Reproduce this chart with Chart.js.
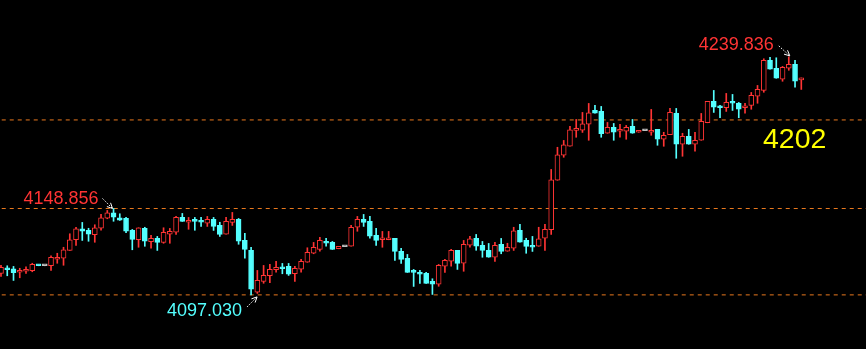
<!DOCTYPE html>
<html>
<head>
<meta charset="utf-8">
<script src="https://cdn.jsdelivr.net/npm/chart.js@4.4.0/dist/chart.umd.min.js"></script>
<style>
  html, body { margin: 0; padding: 0; background: #000; }
  #wrap { width: 866px; height: 349px; }
</style>
</head>
<body>
<div id="wrap"><canvas id="kChart"></canvas></div>
<script>
// candle data, oldest first
const opens = [
  4109.9, 4113.3, 4112.7, 4110.6, 4111.2, 4111.5, 4115.1, 4114.5, 4114.5, 4118.4,
  4119.0, 4123.7, 4130.1, 4136.7, 4135.7, 4133.1, 4137.0, 4143.0, 4146.3, 4143.3,
  4142.9, 4135.7, 4130.1, 4136.9, 4128.9, 4130.9, 4128.5, 4133.4, 4134.6, 4143.5,
  4140.6, 4141.7, 4141.7, 4140.0, 4142.3, 4138.7, 4133.4, 4140.5, 4142.3, 4129.7,
  4123.7, 4098.6, 4105.1, 4108.5, 4112.1, 4113.5, 4114.1, 4109.7, 4112.4, 4116.6,
  4122.0, 4124.3, 4129.1, 4128.5, 4124.7, 4125.9, 4126.2, 4137.6, 4142.3, 4141.1,
  4132.7, 4130.1, 4130.1, 4130.9, 4123.1, 4118.9, 4111.2, 4110.6, 4110.0, 4105.2,
  4103.4, 4114.2, 4117.2, 4123.7, 4116.0, 4126.8, 4130.9, 4126.7, 4123.7, 4119.6,
  4127.3, 4123.2, 4125.0, 4135.7, 4129.7, 4126.7, 4126.2, 4131.0, 4136.1, 4165.8,
  4180.8, 4186.2, 4195.7, 4195.8, 4199.4, 4207.7, 4207.1, 4194.0, 4197.5, 4195.2,
  4195.2, 4198.1, 4194.6, 4195.5, 4194.6, 4196.3, 4190.4, 4193.1, 4205.9, 4187.4,
  4192.1, 4187.4, 4189.8, 4200.3, 4213.1, 4210.1, 4209.3, 4212.9, 4211.9, 4209.3,
  4210.7, 4216.2, 4219.7, 4237.7, 4232.9, 4226.4, 4233.0, 4235.3, 4226.0
];
const highs = [
  4114.7, 4114.5, 4114.1, 4113.0, 4113.9, 4116.0, 4115.1, 4114.5, 4120.5, 4122.0,
  4125.6, 4133.7, 4137.6, 4140.5, 4137.0, 4139.1, 4145.3, 4147.7, 4148.856, 4145.7,
  4143.6, 4136.3, 4137.3, 4137.6, 4132.7, 4132.1, 4137.3, 4136.9, 4144.1, 4145.9,
  4143.5, 4143.5, 4143.5, 4144.1, 4143.5, 4140.6, 4143.5, 4146.5, 4142.9, 4133.9,
  4125.6, 4111.7, 4114.7, 4115.3, 4117.1, 4115.9, 4115.9, 4114.1, 4118.4, 4125.3,
  4128.5, 4131.6, 4130.9, 4129.1, 4126.1, 4125.9, 4138.7, 4144.1, 4145.3, 4144.1,
  4136.9, 4135.1, 4135.1, 4130.9, 4124.9, 4121.3, 4112.3, 4111.7, 4110.6, 4106.7,
  4115.3, 4118.4, 4124.3, 4123.7, 4129.7, 4132.1, 4133.3, 4129.1, 4127.9, 4128.5,
  4130.9, 4128.0, 4137.6, 4139.3, 4131.0, 4132.1, 4137.6, 4139.3, 4172.3, 4185.6,
  4189.7, 4198.1, 4202.3, 4206.5, 4211.9, 4210.7, 4210.1, 4200.5, 4199.9, 4199.3,
  4198.7, 4202.3, 4195.7, 4195.5, 4208.3, 4196.3, 4194.6, 4208.9, 4208.9, 4194.0,
  4196.3, 4194.5, 4205.9, 4213.1, 4219.7, 4210.7, 4217.9, 4217.3, 4212.5, 4211.9,
  4218.5, 4222.7, 4238.7, 4239.5, 4239.3, 4234.1, 4239.836, 4237.7, 4227.2
];
const lows = [
  4108.1, 4108.5, 4105.7, 4107.3, 4109.9, 4110.9, 4114.5, 4114.5, 4111.7, 4116.0,
  4114.8, 4123.7, 4126.7, 4129.7, 4129.2, 4128.6, 4135.8, 4142.7, 4141.2, 4141.7,
  4134.3, 4124.1, 4125.6, 4126.2, 4125.0, 4123.7, 4128.0, 4128.0, 4133.3, 4141.1,
  4136.4, 4135.8, 4138.1, 4138.1, 4135.7, 4132.1, 4133.4, 4138.7, 4127.4, 4119.0,
  4097.03, 4097.9, 4104.0, 4104.3, 4110.6, 4109.7, 4108.7, 4105.1, 4110.6, 4116.6,
  4121.7, 4123.2, 4126.2, 4124.3, 4124.7, 4125.9, 4126.2, 4135.2, 4138.1, 4131.0,
  4126.7, 4125.6, 4130.1, 4117.7, 4115.9, 4110.5, 4102.1, 4103.9, 4103.9, 4097.3,
  4102.2, 4110.5, 4114.2, 4112.3, 4111.2, 4125.6, 4123.8, 4119.6, 4119.6, 4117.1,
  4121.7, 4123.2, 4123.7, 4128.6, 4122.0, 4123.1, 4126.2, 4123.7, 4133.3, 4165.8,
  4179.6, 4186.2, 4191.6, 4194.5, 4189.8, 4206.0, 4191.6, 4194.0, 4189.8, 4191.6,
  4190.4, 4194.0, 4194.6, 4195.5, 4192.8, 4186.8, 4186.2, 4193.1, 4179.0, 4180.2,
  4187.4, 4183.2, 4189.8, 4200.3, 4206.5, 4203.3, 4207.1, 4207.7, 4203.3, 4206.0,
  4208.4, 4212.0, 4218.6, 4232.4, 4227.0, 4225.2, 4231.8, 4221.6, 4220.3
];
const closes = [
  4113.5, 4112.1, 4110.3, 4111.2, 4112.1, 4115.3, 4114.5, 4114.5, 4119.5, 4119.3,
  4124.1, 4130.1, 4136.7, 4135.2, 4133.4, 4137.3, 4143.3, 4146.3, 4143.6, 4141.8,
  4135.2, 4130.3, 4137.3, 4129.2, 4130.9, 4128.5, 4134.5, 4135.1, 4143.5, 4141.1,
  4141.7, 4141.1, 4140.6, 4142.3, 4138.1, 4133.3, 4141.1, 4142.3, 4129.2, 4124.3,
  4100.4, 4105.7, 4108.7, 4112.3, 4113.5, 4112.7, 4109.4, 4112.9, 4117.1, 4122.5,
  4125.5, 4129.7, 4128.0, 4124.3, 4126.1, 4125.9, 4137.5, 4142.3, 4140.5, 4132.2,
  4129.7, 4130.9, 4130.9, 4123.1, 4118.3, 4110.5, 4110.5, 4109.4, 4103.9, 4103.4,
  4114.7, 4117.7, 4123.7, 4115.9, 4127.3, 4130.7, 4126.2, 4123.7, 4119.6, 4126.7,
  4123.1, 4125.6, 4135.5, 4128.6, 4126.1, 4125.6, 4130.7, 4136.3, 4166.1, 4181.1,
  4187.1, 4196.1, 4196.3, 4199.7, 4206.3, 4206.0, 4193.7, 4197.5, 4194.6, 4196.3,
  4197.5, 4194.0, 4195.7, 4195.5, 4195.7, 4190.4, 4192.7, 4206.5, 4187.4, 4192.1,
  4187.4, 4189.7, 4201.1, 4213.1, 4209.6, 4209.3, 4212.5, 4212.0, 4208.4, 4210.2,
  4216.7, 4220.3, 4237.7, 4232.4, 4227.0, 4233.5, 4235.3, 4225.2, 4227.2
];

// horizontal reference levels
const levels = [4202, 4148.856, 4097.03];
const levelText = '4202';
const highText = '4239.836';
const midHighText = '4148.856';
const lowText = '4097.030';

const UP = '#ff3434';
const DOWN = '#54ffff';
const FLAT = '#c0c0c0';
const LEVEL = '#e8781e';

const idx = opens.map((_, i) => i);
const colorOf = i => closes[i] > opens[i] ? UP : (closes[i] < opens[i] ? DOWN : FLAT);

const levelSets = levels.map(v => ({
  type: 'line',
  data: [{ x: -5, y: v }, { x: 200, y: v }],
  borderColor: LEVEL,
  borderWidth: 1,
  borderDash: [4, 4],
  pointRadius: 0,
  order: 3
}));

// arrows + price labels drawn on top
const notesPlugin = {
  id: 'notes',
  afterDatasetsDraw(chart) {
    const ctx = chart.ctx;
    const xs = chart.scales.x, ys = chart.scales.y;

    function arrow(x1, y1, x2, y2) {
      ctx.save();
      ctx.strokeStyle = '#ffffff';
      ctx.lineWidth = 1;
      ctx.setLineDash([1.5, 1.5]);
      ctx.beginPath();
      ctx.moveTo(x1, y1);
      ctx.lineTo(x2, y2);
      ctx.stroke();
      ctx.setLineDash([]);
      const a = Math.atan2(y2 - y1, x2 - x1);
      ctx.beginPath();
      ctx.moveTo(x2, y2);
      ctx.lineTo(x2 - 6 * Math.cos(a - 0.45), y2 - 6 * Math.sin(a - 0.45));
      ctx.moveTo(x2, y2);
      ctx.lineTo(x2 - 6 * Math.cos(a + 0.45), y2 - 6 * Math.sin(a + 0.45));
      ctx.stroke();
      ctx.restore();
    }

    ctx.save();
    ctx.font = '18px "Liberation Sans", Arial, sans-serif';
    ctx.textAlign = 'right';
    ctx.textBaseline = 'alphabetic';

    // top high
    let hx = xs.getPixelForValue(126), hy = ys.getPixelForValue(highs[126]);
    arrow(hx - 10, hy - 11, hx + 1, hy - 1);
    ctx.fillStyle = UP;
    ctx.fillText(highText, hx - 15, hy - 7);

    // left high
    let mx = xs.getPixelForValue(18), my = ys.getPixelForValue(highs[18]);
    arrow(mx - 11, my - 10, mx - 1, my);
    ctx.fillStyle = UP;
    ctx.fillText(midHighText, mx - 15, my - 4.5);

    // low
    let lx = xs.getPixelForValue(40), ly = ys.getPixelForValue(lows[40]);
    arrow(lx - 4, ly + 12, lx + 6, ly + 2);
    ctx.fillStyle = DOWN;
    ctx.fillText(lowText, lx - 9, ly + 21.5);

    // level label
    ctx.textAlign = 'left';
    ctx.font = '28.5px "Liberation Sans", Arial, sans-serif';
    ctx.fillStyle = '#ffff00';
    ctx.fillText(levelText, 763, ys.getPixelForValue(levels[0]) + 28);
    ctx.restore();
  }
};

const ctx = document.getElementById('kChart').getContext('2d');
const kChart = new Chart(ctx, {
  type: 'bar',
  data: {
    datasets: [
      {
        data: idx.map(i => ({ x: i, y: [opens[i], closes[i]] })),
        backgroundColor: idx.map(i => closes[i] > opens[i] ? '#000000' : colorOf(i)),
        borderColor: idx.map(colorOf),
        borderWidth: 1,
        borderSkipped: false,
        barThickness: 5,
        minBarLength: 2,
        grouped: false,
        order: 0
      },
      {
        data: idx.map(i => ({ x: i, y: [lows[i], highs[i]] })),
        backgroundColor: idx.map(colorOf),
        borderWidth: 0,
        barThickness: 1,
        grouped: false,
        order: 1
      },
      ...levelSets
    ]
  },
  options: {
    responsive: true,
    maintainAspectRatio: false,
    animation: false,
    events: [],
    layout: { padding: 0 },
    plugins: {
      legend: { display: false },
      tooltip: { enabled: false }
    },
    scales: {
      x: { type: 'linear', min: -0.16, max: 138.35, offset: false, display: false },
      y: { min: 4064.56, max: 4273.96, display: false }
    }
  },
  plugins: [notesPlugin]
});
</script>
</body>
</html>
